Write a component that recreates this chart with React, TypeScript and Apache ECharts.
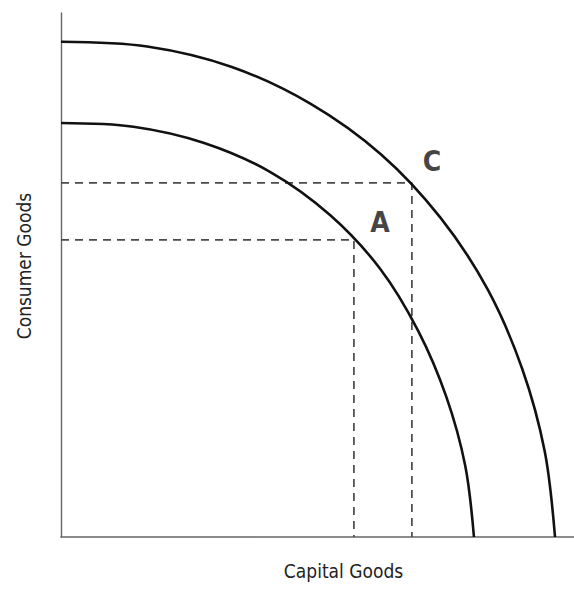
import React, { useEffect, useRef } from "react";
import * as echarts from "echarts";

// Production possibilities frontiers (Capital Goods on x, Consumer Goods on y)
const outerCurve: [number, number][] = [
  [0, 9.45], [1.68, 9.36], [3.33, 8.97], [4.86, 8.27], [6.24, 7.3], [7.4, 6.09],
  [8.32, 4.72], [8.99, 3.21], [9.43, 1.63], [9.63, 0],
];
const innerCurve: [number, number][] = [
  [0, 7.9], [1.41, 7.83], [2.79, 7.52], [4.09, 6.96], [5.25, 6.14], [6.22, 5.12],
  [6.96, 3.94], [7.51, 2.68], [7.88, 1.36], [8.05, 0],
];
const pointNames = ["A", "C"];
const pointX = [5.71, 6.84];
const pointY = [5.67, 6.76];
const xAxisTitle = "Capital Goods";
const yAxisTitle = "Consumer Goods";
const axisMax = [10, 10];

const FONT = '"DejaVu Sans Condensed", "Liberation Sans Narrow", "Liberation Sans", sans-serif';

export default function App() {
  const ref = useRef<HTMLDivElement>(null);
  useEffect(() => {
    document.body.style.margin = "0";
    document.body.style.overflow = "hidden";
    if (!ref.current) return;
    const chart = echarts.init(ref.current, null, { renderer: "svg" });
    const dashedSeries = pointNames.map((n, i) => ({
      type: "line",
      name: "guide" + n,
      data: [[0, pointY[i]], [pointX[i], pointY[i]], [pointX[i], 0]],
      symbol: "none",
      silent: true,
      lineStyle: { color: "#4a4a4a", width: 1.7, type: [8, 6] },
      z: 1,
    }));
    chart.setOption({
      animation: false,
      backgroundColor: "#fff",
      grid: { left: 61, right: 0, top: 13, bottom: 53 },
      xAxis: {
        type: "value",
        min: 0,
        max: axisMax[0],
        name: xAxisTitle,
        nameLocation: "middle",
        nameGap: 24,
        nameTextStyle: { fontFamily: FONT, fontSize: 19, color: "#222", padding: [0, 0, 0, 52] },
        axisLine: { show: true, lineStyle: { color: "#666", width: 1.6 } },
        axisTick: { show: false },
        axisLabel: { show: false },
        splitLine: { show: false },
      },
      yAxis: {
        type: "value",
        min: 0,
        max: axisMax[1],
        name: yAxisTitle,
        nameLocation: "middle",
        nameRotate: 90,
        nameGap: 28,
        nameTextStyle: { fontFamily: FONT, fontSize: 19, color: "#222", padding: [0, 0, 0, 18] },
        axisLine: { show: true, lineStyle: { color: "#666", width: 1.4 } },
        axisTick: { show: false },
        axisLabel: { show: false },
        splitLine: { show: false },
      },
      series: [
        ...dashedSeries,
        {
          type: "line",
          name: "outer",
          data: outerCurve,
          symbol: "none",
          smooth: 0.33,
          lineStyle: { color: "#111", width: 2.6 },
          z: 3,
        },
        {
          type: "line",
          name: "inner",
          data: innerCurve,
          symbol: "none",
          smooth: 0.33,
          lineStyle: { color: "#111", width: 2.6 },
          z: 3,
        },
        {
          type: "scatter",
          name: "points",
          symbolSize: 0,
          data: pointNames.map((n, i) => ({
            value: [pointX[i], pointY[i]],
            name: n,
            label: { offset: n === "A" ? [26, -17] : [20, -21] },
          })),
          label: {
            show: true,
            position: "inside",
            formatter: "{b}",
            fontFamily: FONT,
            fontWeight: "bold",
            fontSize: 28,
            color: "#111",
          },
          z: 4,
        },
      ],
    });
    return () => chart.dispose();
  }, []);
  return <div ref={ref} style={{ width: 574, height: 590 }} />;
}
